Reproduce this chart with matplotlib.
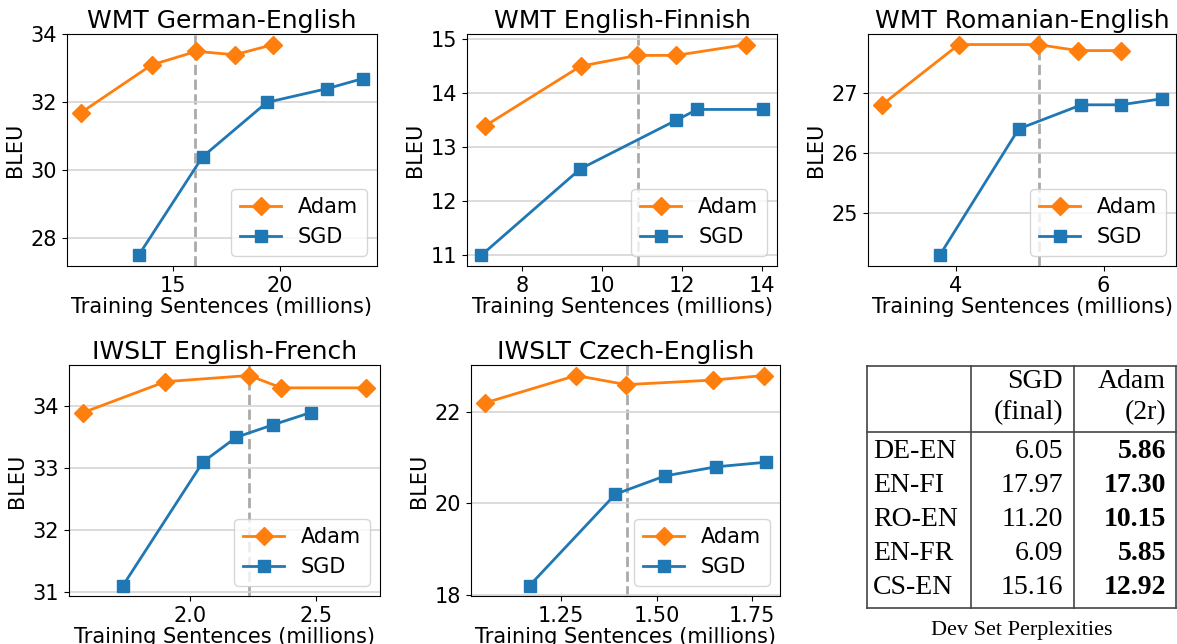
import matplotlib
matplotlib.use("Agg")
import matplotlib.pyplot as plt

# panel titles
titles = ["WMT German-English", "WMT English-Finnish", "WMT Romanian-English",
          "IWSLT English-French", "IWSLT Czech-English"]

# Adam (x: millions of sentences, y: BLEU)
adam_x = [[10.7, 14.0, 16.1, 17.9, 19.7],
          [7.08, 9.46, 10.88, 11.85, 13.6],
          [3.0, 4.04, 5.11, 5.65, 6.23],
          [1.572, 1.90, 2.234, 2.363, 2.70],
          [1.05, 1.289, 1.42, 1.648, 1.783]]
adam_y = [[31.7, 33.1, 33.5, 33.4, 33.7],
          [13.4, 14.5, 14.7, 14.7, 14.9],
          [26.8, 27.8, 27.8, 27.7, 27.7],
          [33.9, 34.4, 34.5, 34.3, 34.3],
          [22.2, 22.8, 22.6, 22.7, 22.8]]

# SGD
sgd_x = [[13.39, 16.39, 19.4, 22.2, 23.9],
         [6.97, 9.45, 11.85, 12.38, 14.02],
         [3.78, 4.85, 5.70, 6.23, 6.79],
         [1.731, 2.05, 2.183, 2.328, 2.48],
         [1.167, 1.392, 1.522, 1.656, 1.787]]
sgd_y = [[27.5, 30.4, 32.0, 32.4, 32.7],
         [11.0, 12.6, 13.5, 13.7, 13.7],
         [24.3, 26.4, 26.8, 26.8, 26.9],
         [31.1, 33.1, 33.5, 33.7, 33.9],
         [18.2, 20.2, 20.6, 20.8, 20.9]]

# dashed reference line per panel
vlines = [16.05, 10.89, 5.12, 2.234, 1.422]

# perplexity table
tab_rows = ["DE-EN", "EN-FI", "RO-EN", "EN-FR", "CS-EN"]
tab_sgd = ["6.05", "17.97", "11.20", "6.09", "15.16"]
tab_adam = ["5.86", "17.30", "10.15", "5.85", "12.92"]

W, H = 1177, 644
fig = plt.figure(figsize=(W / 100, H / 100), dpi=100)

# axes boxes in pixels: left, top, right, bottom
boxes = [(67, 34, 377, 266), (467, 34, 777, 266), (868, 34, 1176, 266),
         (69, 365, 380, 596), (471, 365, 780, 596)]

orange, blue = "#ff7f0e", "#1f77b4"
for i, (l, t, r, b) in enumerate(boxes):
    ax = fig.add_axes([l / W, 1 - b / H, (r - l) / W, (b - t) / H])
    ax.plot(adam_x[i], adam_y[i], color=orange, marker="D", ms=9, lw=2, label="Adam")
    ax.plot(sgd_x[i], sgd_y[i], color=blue, marker="s", ms=9, lw=2, label="SGD")
    ax.axvline(vlines[i], color="#aaaaaa", ls="--", lw=2, zorder=0)
    ax.grid(axis="y", color="#d5d5d5", lw=1.2)
    ax.set_axisbelow(True)
    ax.set_title(titles[i], fontsize=18, pad=4)
    ax.set_ylabel("BLEU", fontsize=15)
    ax.set_xlabel("Training Sentences (millions)", fontsize=15, labelpad=1)
    ax.tick_params(labelsize=15)
    ax.legend(loc="lower right", fontsize=15)

# table drawn in figure pixel coordinates
tx = fig.add_axes([0, 0, 1, 1])
tx.set_xlim(0, W)
tx.set_ylim(H, 0)
tx.axis("off")
lc = "#444444"
L, R, T, B = 867, 1176, 366, 608
for x in (L, 971, 1074, R):
    tx.plot([x, x], [T, B], color=lc, lw=1.2)
for y in (T, 432, B):
    tx.plot([L, R], [y, y], color=lc, lw=1.2)
serif = "Liberation Serif"
fs = 20
tx.text(1063, 381, "SGD", ha="right", va="center", fontsize=fs, family=serif)
tx.text(1063, 413, "(final)", ha="right", va="center", fontsize=fs, family=serif)
tx.text(1166, 381, "Adam", ha="right", va="center", fontsize=fs, family=serif)
tx.text(1166, 413, "(2r)", ha="right", va="center", fontsize=fs, family=serif)
for k in range(len(tab_rows)):
    y = 451 + k * 34
    tx.text(873, y, tab_rows[k], ha="left", va="center", fontsize=fs, family=serif)
    tx.text(1063, y, tab_sgd[k], ha="right", va="center", fontsize=fs, family=serif)
    tx.text(1166, y, tab_adam[k], ha="right", va="center", fontsize=fs,
            family=serif, weight="bold")
tx.text((L + R) / 2, 631, "Dev Set Perplexities", ha="center", va="center",
        fontsize=16, family=serif)

fig.savefig("out.png", dpi=100)
